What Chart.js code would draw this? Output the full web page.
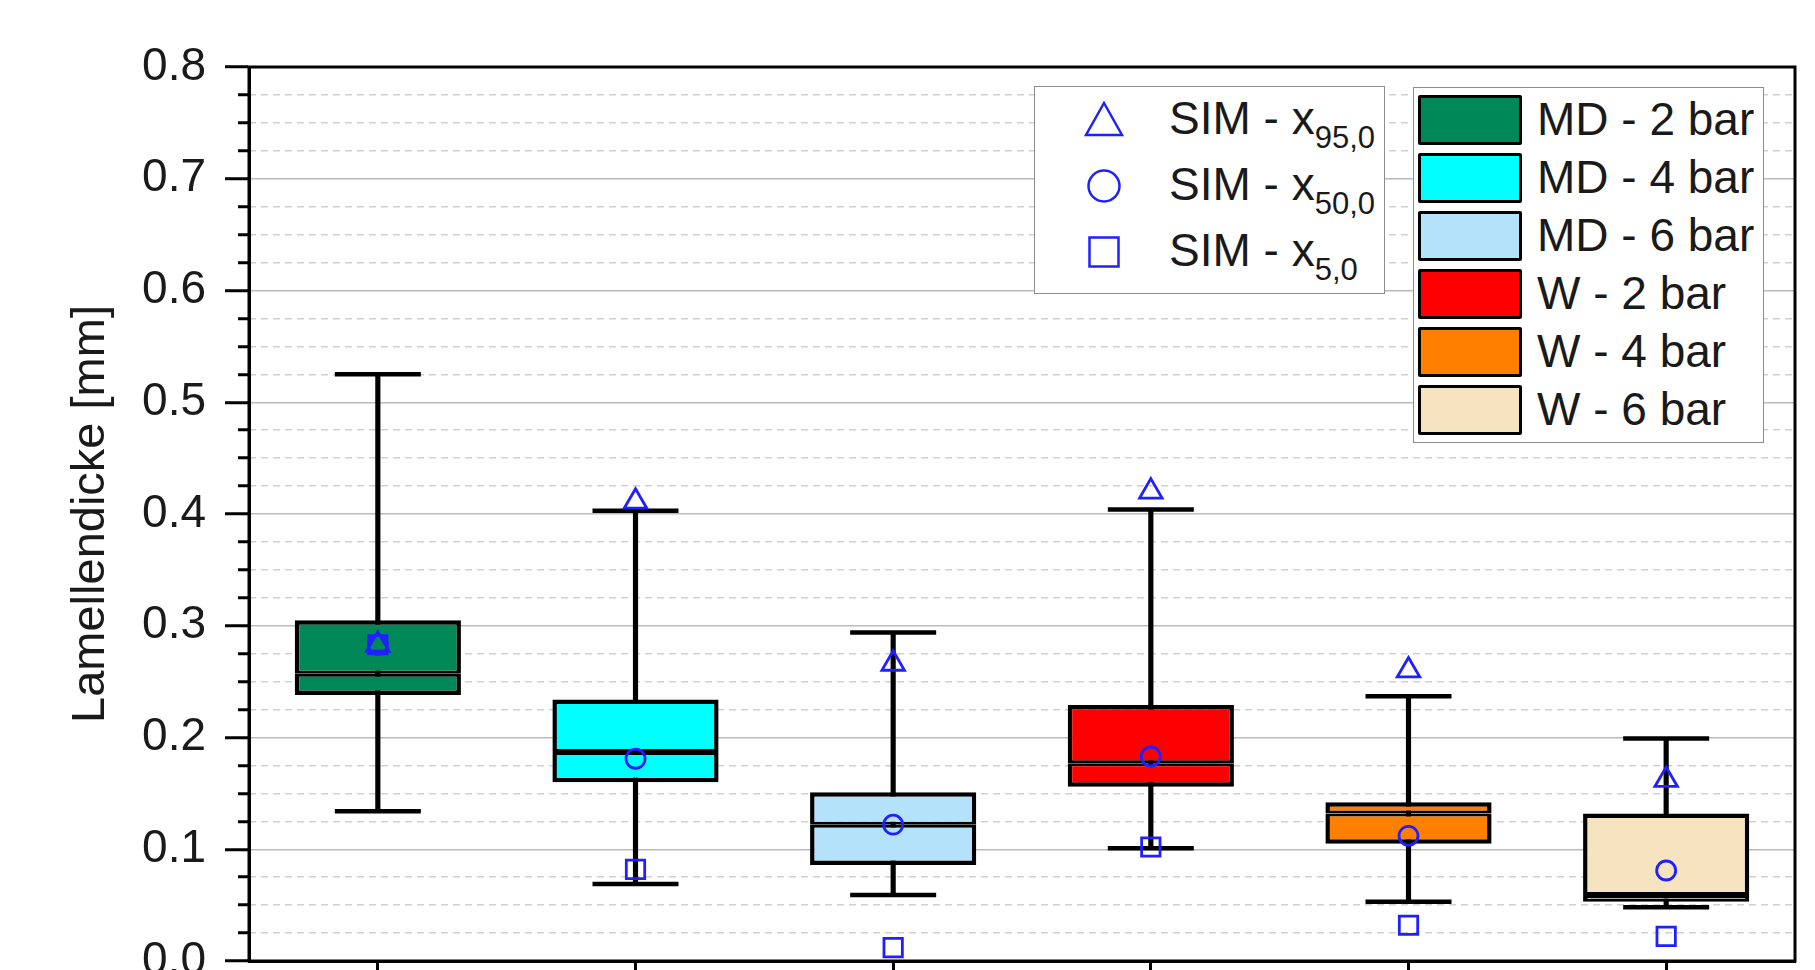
<!DOCTYPE html>
<html>
<head>
<meta charset="utf-8">
<script src="https://cdn.jsdelivr.net/npm/chart.js@4.4.1/dist/chart.umd.min.js"></script>
<style>
  html, body { margin: 0; padding: 0; background: #fff; }
  #wrap { position: relative; width: 1815px; height: 970px; font-family: 'Liberation Sans', Arial, sans-serif; color: #1a1a1a; }
  #chart { position: absolute; left: 0; top: 0; }
  .legend { position: absolute; background: #fff; border: 1.5px solid #8c8c8c; box-sizing: border-box; }
  #legendSim { left: 1034px; top: 86px; width: 351px; height: 208px; }
  #legendBox { left: 1413px; top: 87px; width: 351px; height: 356px; }
  .mark { position: absolute; left: 47px; width: 44px; height: 44px; }
  .txt { position: absolute; font-size: 46px; line-height: 46px; white-space: nowrap; }
  .sub { font-size: 31px; vertical-align: -14px; line-height: 0; }
  .swatch { position: absolute; left: 4px; width: 104px; height: 50px; box-sizing: border-box; border: 3.5px solid #000; border-radius: 2px; }
</style>
</head>
<body>
<div id="wrap">
  <canvas id="chart" width="1815" height="970"></canvas>
  <div id="legendSim" class="legend"></div>
  <div id="legendBox" class="legend"></div>
</div>
<script>
const categories = ['MD - 2 bar', 'MD - 4 bar', 'MD - 6 bar', 'W - 2 bar', 'W - 4 bar', 'W - 6 bar'];
const boxColors = ['#008859', '#00FFFF', '#B4E2FA', '#FF0000', '#FF8000', '#F6E4C0'];

// box plot statistics [mm]
const whiskerLow = [0.134, 0.069, 0.059, 0.101, 0.053, 0.048];
const q1 = [0.238, 0.160, 0.086, 0.156, 0.105, 0.053];
const median = [0.257, 0.187, 0.122, 0.177, 0.132, 0.059];
const q3 = [0.305, 0.234, 0.151, 0.229, 0.142, 0.132];
const whiskerHigh = [0.525, 0.403, 0.294, 0.404, 0.237, 0.199];

// simulation
const sim95 = [0.283, 0.411, 0.266, 0.420, 0.260, 0.162];
const sim50 = [0.283, 0.181, 0.122, 0.183, 0.112, 0.081];
const sim5 = [0.283, 0.082, 0.012, 0.102, 0.032, 0.022];
const simLabels = ['95,0', '50,0', '5,0'];
const simStyles = ['triangle', 'circle', 'rect'];

const simColor = '#2020ff';
const fontFamily = "'Liberation Sans', Arial, sans-serif";

const isMajor = (v) => Math.abs(v * 10 - Math.round(v * 10)) < 1e-6;

const framePlugin = {
  id: 'frame',
  afterDatasetsDraw(chart) {
    const { ctx, chartArea: a } = chart;
    ctx.save();
    ctx.strokeStyle = '#000';
    ctx.lineWidth = 3;
    ctx.strokeRect(a.left, a.top, a.right - a.left, a.bottom - a.top);
    ctx.restore();
  },
};

function simDataset(data, style, radius, label) {
  return {
    type: 'line',
    label: label,
    data: data,
    showLine: false,
    pointStyle: style,
    pointRadius: radius,
    pointBorderWidth: 2.8,
    borderColor: simColor,
    backgroundColor: 'rgba(0,0,0,0)',
    order: 0,
  };
}

function capDataset(data) {
  return {
    type: 'line',
    data: data,
    showLine: false,
    pointStyle: 'line',
    pointRadius: 43,
    pointBorderWidth: 4.5,
    borderColor: '#000',
    order: 2,
  };
}

new Chart(document.getElementById('chart'), {
  type: 'bar',
  data: {
    labels: categories,
    datasets: [
      simDataset(sim95, 'triangle', 13, 'SIM - x95,0'),
      simDataset(sim50, 'circle', 9.5, 'SIM - x50,0'),
      simDataset(sim5, 'rect', 13, 'SIM - x5,0'),
      {
        data: categories.map((c, i) => [median[i], q3[i]]),
        backgroundColor: boxColors,
        borderColor: '#000',
        borderWidth: { top: 4.5, right: 4.5, bottom: 3, left: 4.5 },
        borderSkipped: false,
        inflateAmount: 0,
        grouped: false,
        categoryPercentage: 1,
        barPercentage: 0.645,
        order: 1,
      },
      {
        data: categories.map((c, i) => [q1[i], median[i]]),
        backgroundColor: boxColors,
        borderColor: '#000',
        borderWidth: { top: 3, right: 4.5, bottom: 4.5, left: 4.5 },
        borderSkipped: false,
        inflateAmount: 0,
        grouped: false,
        categoryPercentage: 1,
        barPercentage: 0.645,
        order: 1,
      },
      capDataset(whiskerHigh),
      capDataset(whiskerLow),
      {
        data: categories.map((c, i) => [whiskerLow[i], whiskerHigh[i]]),
        backgroundColor: '#000',
        borderWidth: 0,
        barThickness: 4.5,
        grouped: false,
        order: 3,
      },
    ],
  },
  options: {
    responsive: false,
    devicePixelRatio: 1,
    animation: false,
    events: [],
    layout: { autoPadding: false, padding: { left: 60, top: 67, right: 20, bottom: 0 } },
    plugins: {
      legend: { display: false },
      tooltip: { enabled: false },
    },
    scales: {
      x: {
        type: 'category',
        offset: true,
        ticks: { display: false },
        grid: { offset: false, drawOnChartArea: false, drawTicks: true, tickLength: 14, tickWidth: 3, tickColor: '#000' },
        border: { display: true, color: '#000', width: 3 },
        afterFit: (s) => { s.height = 9; },
      },
      y: {
        position: 'left',
        weight: 1,
        min: 0,
        max: 0.8,
        ticks: {
          stepSize: 0.1,
          padding: 19,
          color: '#1a1a1a',
          font: { family: fontFamily, size: 46 },
          callback: (v) => v.toFixed(1),
        },
        grid: { color: '#bababa', lineWidth: 1.5, tickLength: 24, tickWidth: 3, tickColor: '#000', tickBorderDash: [] },
        border: { color: '#000', width: 3 },
        title: {
          display: true,
          text: 'Lamellendicke [mm]',
          color: '#1a1a1a',
          font: { family: fontFamily, size: 47 },
          padding: { top: 3, bottom: 0 },
        },
        afterFit: (s) => { s.width = 189; s.paddingTop = 0; s.paddingBottom = 0; },
      },
      yMinor: {
        position: 'left',
        weight: 0,
        min: 0,
        max: 0.8,
        ticks: { display: false, stepSize: 0.025 },
        grid: {
          color: (c) => (isMajor(c.tick.value) ? 'rgba(0,0,0,0)' : '#d0d0d0'),
          lineWidth: 1.5,
          tickLength: 11,
          tickWidth: 3,
          tickColor: (c) => (isMajor(c.tick.value) ? 'rgba(0,0,0,0)' : '#000'),
          tickBorderDash: [],
        },
        border: { display: false, dash: [7, 5] },
        afterFit: (s) => { s.width = 0; },
      },
    },
  },
  plugins: [framePlugin],
});

// legends
function markerSvg(style) {
  let shape = '';
  if (style === 'triangle') shape = '<polygon points="22,5 40,37 4,37" />';
  else if (style === 'circle') shape = '<circle cx="22" cy="22" r="15.5" />';
  else shape = '<rect x="7.5" y="7.5" width="29" height="29" />';
  return '<svg class="mark" viewBox="0 0 44 44" fill="none" stroke="' + simColor + '" stroke-width="2.5">' + shape + '</svg>';
}

const legendSim = document.getElementById('legendSim');
simLabels.forEach((lab, i) => {
  const m = document.createElement('div');
  m.innerHTML = markerSvg(simStyles[i]);
  const svg = m.firstChild;
  svg.style.top = (11 + 66 * i) + 'px';
  legendSim.appendChild(svg);
  const t = document.createElement('div');
  t.className = 'txt';
  t.style.left = '134px';
  t.style.top = (8 + 66 * i) + 'px';
  t.innerHTML = 'SIM - x<span class="sub">' + lab + '</span>';
  legendSim.appendChild(t);
});

const legendBox = document.getElementById('legendBox');
categories.forEach((cat, i) => {
  const s = document.createElement('div');
  s.className = 'swatch';
  s.style.top = (7 + 58 * i) + 'px';
  s.style.background = boxColors[i];
  legendBox.appendChild(s);
  const t = document.createElement('div');
  t.className = 'txt';
  t.style.left = '123px';
  t.style.top = (8 + 58 * i) + 'px';
  t.textContent = cat;
  legendBox.appendChild(t);
});
</script>
</body>
</html>
